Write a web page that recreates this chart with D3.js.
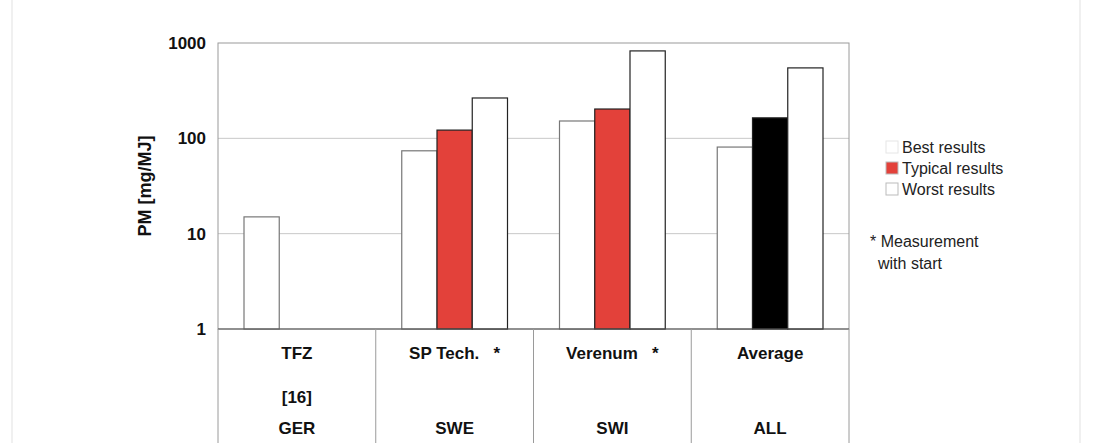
<!DOCTYPE html>
<html>
<head>
<meta charset="utf-8">
<script src="https://cdn.jsdelivr.net/npm/d3@7"></script>
<style>
    body { margin: 0; background: #fff; }
    svg text { font-family: "Liberation Sans", Arial, sans-serif; }
</style>
</head>
<body>
<div id="chart"></div>
<script>
// data
let categories = ["TFZ", "SP Tech.   *", "Verenum   *", "Average"];
let row2Labels = ["[16]", "", "", ""];
let row3Labels = ["GER", "SWE", "SWI", "ALL"];
let seriesNames = ["Best results", "Typical results", "Worst results"];
let bestValues = [15, 74, 152, 81];
let typicalValues = [null, 122, 203, 164];
let worstValues = [null, 265, 826, 548];
let typicalColors = ["#e3413a", "#e3413a", "#e3413a", "#000000"];
let yTicks = [1, 10, 100, 1000];

let width = 1093, height = 443;
let margin = {top: 43, left: 218, right: 244, bottom: 114};
let plotW = width - margin.left - margin.right;
let plotH = height - margin.top - margin.bottom;

let svg = d3.select("#chart").append("svg")
    .attr("width", width)
    .attr("height", height);

// faint page edges
svg.append("line").attr("x1", 12).attr("x2", 12).attr("y1", 0).attr("y2", height)
    .attr("stroke", "#f0f0f0").attr("stroke-width", 2);
svg.append("line").attr("x1", 1080).attr("x2", 1080).attr("y1", 0).attr("y2", height)
    .attr("stroke", "#f0f0f0").attr("stroke-width", 2);

let g = svg.append("g")
    .attr("transform", `translate(${margin.left}, ${margin.top})`);

// scales
let x0 = d3.scaleBand()
    .domain(categories)
    .range([0, plotW])
    .paddingInner(0)
    .paddingOuter(0);

let x1 = d3.scaleBand()
    .domain(seriesNames)
    .range([26, x0.bandwidth() - 26])
    .padding(0);

let y = d3.scaleLog()
    .domain([1, 1000])
    .range([plotH, 0]);

// gridlines
g.selectAll(".grid")
    .data(yTicks.filter(d => d > 1 && d < 1000))
    .join("line")
    .attr("class", "grid")
    .attr("x1", 0).attr("x2", plotW)
    .attr("y1", d => y(d)).attr("y2", d => y(d))
    .attr("stroke", "#c8c8c8")
    .attr("stroke-width", 1);

// plot border
g.append("rect")
    .attr("x", 0).attr("y", 0)
    .attr("width", plotW).attr("height", plotH)
    .attr("fill", "none")
    .attr("stroke", "#9a9a9a")
    .attr("stroke-width", 1);

// bars
let rows = categories.map((c, i) => [
    {cat: c, s: seriesNames[0], v: bestValues[i], fill: "#ffffff"},
    {cat: c, s: seriesNames[1], v: typicalValues[i], fill: typicalColors[i]},
    {cat: c, s: seriesNames[2], v: worstValues[i], fill: "#ffffff"}
]).flat().filter(d => d.v != null);

g.selectAll(".bar")
    .data(rows)
    .join("rect")
    .attr("class", "bar")
    .attr("x", d => x0(d.cat) + x1(d.s))
    .attr("width", x1.bandwidth())
    .attr("y", d => y(d.v))
    .attr("height", d => plotH - y(d.v))
    .attr("fill", d => d.fill)
    .attr("stroke", d => d.s === "Best results" ? "#777" : "#222")
    .attr("stroke-width", 1.2);

// y axis labels
let yAxis = d3.axisLeft(y)
    .tickValues(yTicks)
    .tickFormat(d3.format("d"))
    .tickSize(0)
    .tickPadding(12);

let yAxisGroup = g.append("g").call(yAxis);
yAxisGroup.select(".domain").remove();
yAxisGroup.selectAll("text")
    .attr("font-size", "17px")
    .attr("font-weight", "bold")
    .attr("fill", "#111")
    .style("font-family", "Liberation Sans, Arial, sans-serif");

// baseline
g.append("line")
    .attr("x1", 0).attr("x2", plotW)
    .attr("y1", plotH).attr("y2", plotH)
    .attr("stroke", "#555").attr("stroke-width", 1.2);

// table dividers under axis
let bounds = categories.map(c => x0(c)).concat([plotW]);
g.selectAll(".divider")
    .data(bounds)
    .join("line")
    .attr("class", "divider")
    .attr("x1", d => d).attr("x2", d => d)
    .attr("y1", plotH).attr("y2", height - margin.top)
    .attr("stroke", "#9a9a9a").attr("stroke-width", 1);

// table text
let tableRows = [
    {labels: categories, y: plotH + 30},
    {labels: row2Labels, y: plotH + 74},
    {labels: row3Labels, y: plotH + 105}
];
tableRows.forEach(r => {
    g.selectAll(null)
        .data(r.labels)
        .join("text")
        .attr("x", (d, i) => x0(categories[i]) + x0.bandwidth() / 2)
        .attr("y", r.y)
        .attr("text-anchor", "middle")
        .attr("font-size", "17px")
        .attr("font-weight", "bold")
        .attr("fill", "#111")
        .style("white-space", "pre")
        .text(d => d);
});

// y title
svg.append("text")
    .attr("transform", `translate(151, ${margin.top + plotH / 2}) rotate(-90)`)
    .attr("text-anchor", "middle")
    .attr("font-size", "18px")
    .attr("font-weight", "bold")
    .attr("fill", "#111")
    .text("PM [mg/MJ]");

// legend
let legendColors = ["#ffffff", "#e3413a", "#ffffff"];
let legend = svg.append("g").attr("transform", "translate(886, 141)");
legend.selectAll(".swatch")
    .data(seriesNames)
    .join("rect")
    .attr("class", "swatch")
    .attr("x", 0)
    .attr("y", (d, i) => i * 21)
    .attr("width", 12).attr("height", 12)
    .attr("fill", (d, i) => legendColors[i])
    .attr("stroke", (d, i) => i === 0 ? "#e6e6e6" : "#bbb");
legend.selectAll(".ltext")
    .data(seriesNames)
    .join("text")
    .attr("class", "ltext")
    .attr("x", 16)
    .attr("y", (d, i) => i * 21 + 12)
    .attr("font-size", "16px")
    .attr("fill", "#222")
    .text(d => d);

svg.append("text")
    .attr("x", 870).attr("y", 247)
    .attr("font-size", "16px")
    .attr("fill", "#222")
    .style("white-space", "pre")
    .text("* Measurement");
svg.append("text")
    .attr("x", 878).attr("y", 269)
    .attr("font-size", "16px")
    .attr("fill", "#222")
    .text("with start");
</script>
</body>
</html>
